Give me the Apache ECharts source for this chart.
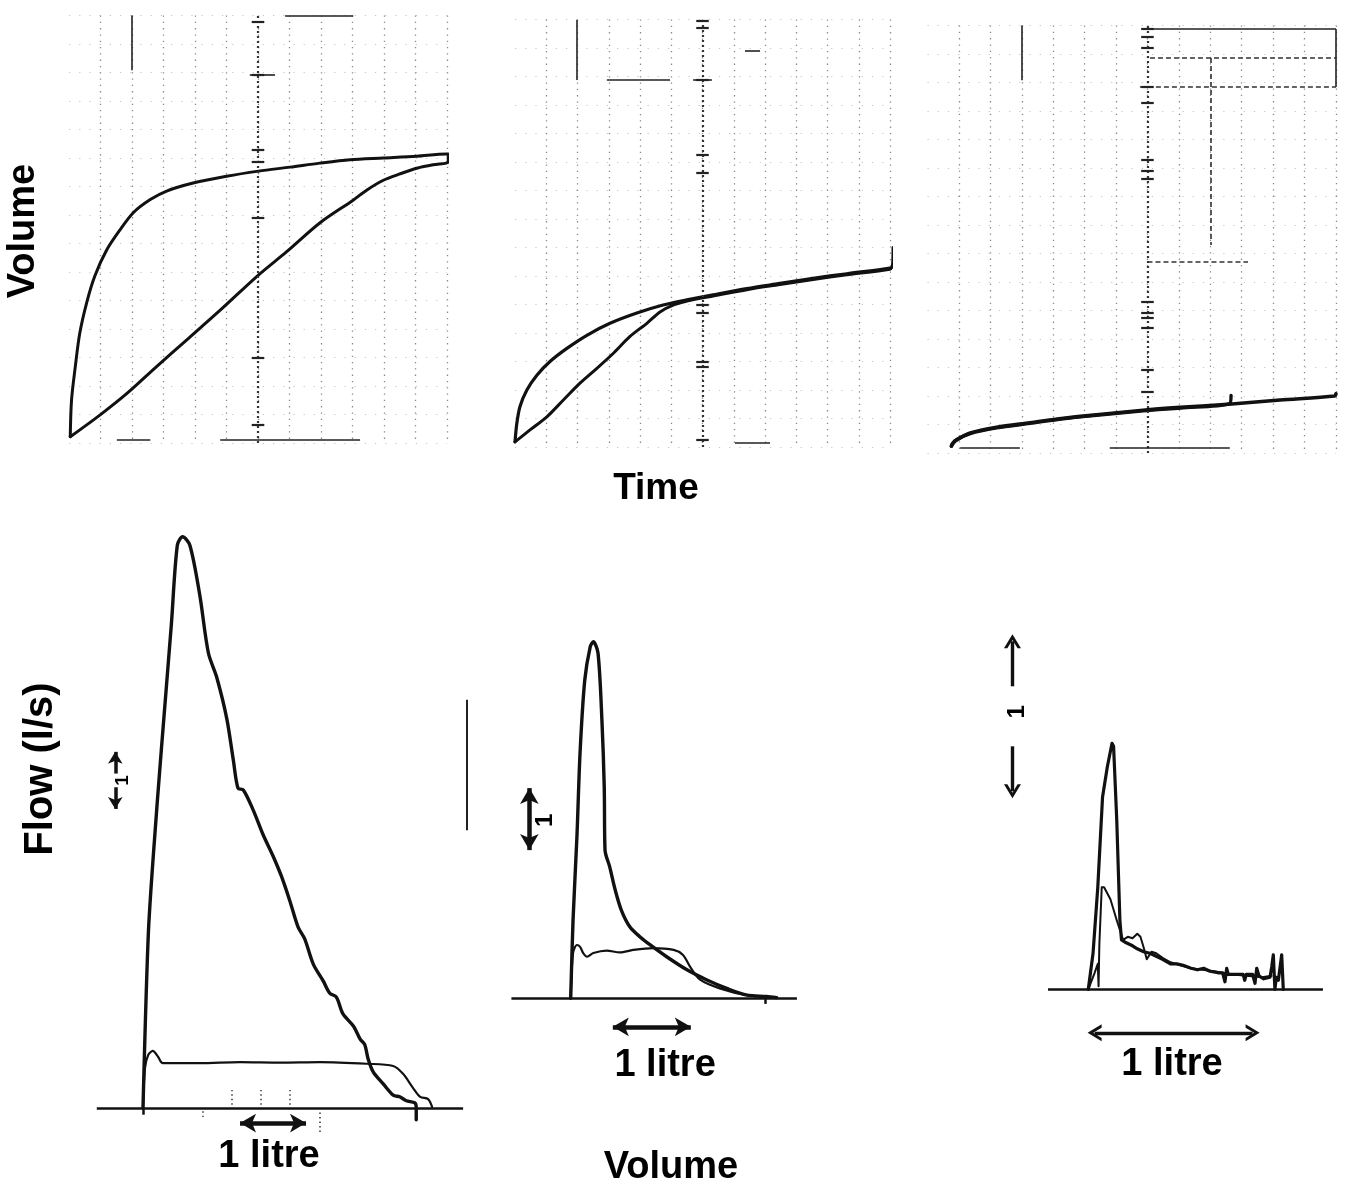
<!DOCTYPE html>
<html>
<head>
<meta charset="utf-8">
<script src="https://cdn.jsdelivr.net/npm/echarts@6/dist/echarts.min.js"></script>
<style>
  html, body { margin: 0; padding: 0; background: #fff; }
  #chart { width: 1348px; height: 1189px; }
</style>
</head>
<body>
<div id="chart"></div>
<script>
// ---------- Spirograms: [time (s), volume (l)] ----------
// normal subject: forced (fast) and slow expiration
const spiroFastA = [[0.02,0.11],[0.04,0.75],[0.10,1.34],[0.17,1.92],[0.28,2.46],[0.41,2.93],[0.60,3.39],[0.81,3.74],[1.02,4.04],[1.29,4.27],[1.55,4.42],[1.97,4.56],[2.50,4.68],[3.01,4.77],[3.51,4.84],[3.98,4.91],[4.46,4.97],[4.99,5.00],[5.52,5.03],[5.99,5.07],[6.02,5.07],[6.02,4.93]];
const spiroSlowA = [[0.02,0.11],[0.49,0.49],[0.92,0.87],[1.39,1.34],[1.87,1.81],[2.40,2.33],[2.98,2.92],[3.46,3.36],[3.98,3.86],[4.51,4.26],[4.73,4.44],[4.99,4.61],[5.25,4.72],[5.52,4.82],[5.78,4.88],[5.99,4.91],[6.02,4.93]];
// moderate obstruction
const spiroFastB = [[0,0.09],[0.03,0.42],[0.08,0.71],[0.19,1.00],[0.35,1.26],[0.56,1.50],[0.83,1.73],[1.15,1.96],[1.52,2.17],[1.95,2.35],[2.37,2.49],[2.75,2.58],[3.17,2.67],[3.71,2.78],[4.24,2.87],[4.77,2.96],[5.31,3.04],[6.00,3.14],[6.04,3.17],[6.05,3.50]];
const spiroSlowB = [[0,0.09],[0.24,0.30],[0.51,0.53],[0.77,0.82],[1.04,1.12],[1.31,1.38],[1.57,1.64],[1.84,1.94],[2.11,2.17],[2.32,2.37],[2.53,2.49],[2.75,2.56],[2.96,2.61],[3.17,2.65],[3.71,2.76],[4.24,2.85],[4.77,2.94],[5.31,3.02],[6.00,3.12],[6.04,3.15]];
// severe obstruction
const spiroFastC = [[-0.12,0.12],[-0.10,0.17],[-0.04,0.23],[0.18,0.35],[0.60,0.45],[1.13,0.53],[1.66,0.61],[2.19,0.67],[2.93,0.75],[3.52,0.80],[4.34,0.86],[5.11,0.93],[5.98,1.00],[6.00,1.04]];
const spiroSlowC = [[-0.12,0.12],[-0.05,0.22],[0.18,0.34],[0.60,0.44],[1.13,0.52],[1.66,0.60],[2.19,0.66],[2.93,0.74],[3.52,0.79],[4.30,0.86],[4.33,1.01]];

// recorder-paper marks: [t0, v0, t1, v1]
const paperSolidA = [[1.0,7.5,1.0,6.54],[0.76,0.05,1.29,0.05],[2.40,0.05,4.62,0.05],[3.43,7.5,4.51,7.5],[2.87,6.46,3.27,6.46]];
const paperSolidB = [[0.99,7.49,0.99,6.44],[1.47,6.44,2.48,6.44],[2.85,6.44,3.15,6.44],[3.68,6.96,3.92,6.96],[3.52,0.07,4.08,0.07]];
const paperSolidC = [[1.0,7.5,1.0,6.54],[2.94,7.44,6.0,7.44],[6.0,7.44,6.0,6.42],[0.02,0.09,0.97,0.09],[2.40,0.09,4.31,0.09]];
const paperDashC = [[3.04,6.93,6.0,6.93],[2.88,6.42,6.0,6.42],[4.0,6.93,4.0,3.65],[3.0,3.35,4.6,3.35]];
// short cross-ticks on the 3 s index line (volume levels)
const indexTicksA = [7.51,7.39,6.46,5.14,4.93,3.95,1.49,0.32];
const indexTicksB = [7.47,7.35,6.44,5.12,4.82,2.49,2.35,1.49,1.40,0.12];
const indexTicksC = [7.44,7.30,7.11,6.42,6.14,5.14,4.96,4.82,2.65,2.46,2.37,2.19,1.46,1.07];
const indexTime = 3.0;

// ---------- Flow-volume curves: [volume (l), flow (l/s)] ----------
const fvForcedA = [[0,0],[0.08,3.09],[0.16,4.57],[0.28,6.43],[0.43,8.64],[0.52,10.05],[0.60,10.20],[0.71,10.05],[0.86,9.16],[0.99,8.13],[1.12,7.68],[1.27,6.95],[1.37,6.20],[1.44,5.71],[1.52,5.68],[1.67,5.32],[1.82,4.88],[1.97,4.50],[2.10,4.13],[2.23,3.68],[2.35,3.23],[2.45,3.02],[2.58,2.57],[2.73,2.27],[2.83,2.05],[2.93,1.98],[3.03,1.68],[3.19,1.46],[3.29,1.23],[3.36,1.13],[3.41,0.88],[3.49,0.64],[3.64,0.43],[3.79,0.23],[3.89,0.20],[3.99,0.13],[4.12,0.09],[4.14,0.0],[4.14,-0.21]];
const fvSlowA = [[0,0],[0.03,0.71],[0.08,0.95],[0.15,1.02],[0.23,0.91],[0.30,0.80],[0.86,0.80],[1.47,0.82],[2.08,0.81],[2.68,0.82],[3.39,0.79],[3.79,0.75],[3.94,0.61],[4.09,0.36],[4.20,0.20],[4.32,0.16],[4.38,0.02]];
const fvForcedB = [[0,0],[0.03,1.26],[0.08,2.61],[0.12,3.96],[0.18,5.13],[0.25,5.67],[0.29,5.75],[0.35,5.57],[0.40,4.49],[0.43,3.41],[0.44,2.39],[0.50,2.12],[0.57,1.75],[0.65,1.42],[0.76,1.15],[0.89,0.99],[1.02,0.86],[1.23,0.67],[1.49,0.46],[1.74,0.30],[2.00,0.16],[2.26,0.05],[2.51,0.03],[2.64,0.01]];
const fvSlowB = [[0,0],[0.03,0.73],[0.08,0.86],[0.12,0.83],[0.16,0.73],[0.21,0.67],[0.29,0.73],[0.46,0.77],[0.63,0.74],[0.80,0.78],[1.06,0.81],[1.32,0.78],[1.44,0.70],[1.53,0.51],[1.66,0.30],[1.91,0.16],[2.26,0.05],[2.64,0.01]];
const fvForcedC = [[0,0],[0.03,0.24],[0.06,0.68],[0.09,1.28],[0.12,1.48],[0.15,1.64],[0.16,1.62],[0.18,1.13],[0.20,0.46],[0.21,0.33],[0.24,0.31],[0.28,0.29],[0.31,0.27],[0.35,0.25],[0.39,0.24],[0.43,0.22],[0.47,0.20],[0.52,0.17],[0.56,0.17],[0.60,0.16],[0.65,0.14],[0.69,0.13],[0.73,0.14],[0.77,0.12],[0.82,0.11],[0.85,0.11],[0.865,0.05],[0.876,0.14],[0.886,0.10],[0.94,0.10],[0.98,0.10],[0.99,0.06],[1.00,0.10],[1.04,0.10],[1.055,0.04],[1.066,0.14],[1.08,0.09],[1.11,0.07],[1.15,0.08],[1.161,0.15],[1.171,0.23],[1.181,0.0],[1.19,0.08],[1.203,0.06],[1.224,0.23],[1.234,0.0]];
const fvSlowC = [[0,0],[0.04,0.11],[0.06,0.17],[0.065,0.02],[0.07,0.30],[0.085,0.68],[0.10,0.68],[0.14,0.60],[0.18,0.46],[0.22,0.33],[0.25,0.35],[0.28,0.34],[0.31,0.37],[0.33,0.35],[0.35,0.28],[0.37,0.20],[0.40,0.25],[0.43,0.24],[0.47,0.21],[0.52,0.18],[0.58,0.16],[0.65,0.14],[0.72,0.13],[0.80,0.12],[0.90,0.10],[1.00,0.09],[1.10,0.08],[1.16,0.09]];

// zero-flow baselines [v0, v1]
const baselineA = [-0.70, 4.85];
const baselineB = [-0.76, 2.90];
const baselineC = [-0.255, 1.485];

// calibration bars: 1 litre (horizontal) and 1 l/s (vertical)
const litreBarA = [1.47, 2.47, -0.27];   // v0, v1, at flow
const litreBarB = [0.54, 1.54, -0.46];
const litreBarC = [0.04, 1.04, -0.29];
const flowBarA = [-0.42, 5.34, 6.36];    // at volume, f0, f1
const flowBarB = [-0.53, 2.39, 3.39];
const flowBarC = [-0.48, 1.32, 2.32];
const scaleText = ['1 litre', '1'];

const FONT = '"Liberation Sans", "Helvetica", Arial, sans-serif';
const INK = '#111';

function seg(list, style) {
  return list.map(s => [{ coord: [s[0], s[1]], lineStyle: style }, { coord: [s[2], s[3]] }]);
}

const solidPaper = { color: '#222', width: 1.6, type: 'solid' };
const dashPaper = { color: '#333', width: 1.6, type: [5, 3] };
const tickPaper = { color: '#222', width: 2.2, type: 'solid' };

function paperMarks(solid, dashed, ticks) {
  const tickSegs = ticks.map(v => [indexTime - 0.1, v, indexTime + 0.1, v]);
  return {
    silent: true, animation: false, symbol: 'none', label: { show: false },
    data: [
      [{ coord: [indexTime, 0], lineStyle: { color: '#333', width: 2.2, type: [2, 3] } }, { coord: [indexTime, 7.5] }]
    ].concat(seg(solid, solidPaper)).concat(seg(dashed || [], dashPaper)).concat(seg(tickSegs, tickPaper))
  };
}

function spiroSeries(idx, data, width, marks) {
  const s = {
    type: 'line', xAxisIndex: idx, yAxisIndex: idx, data: data,
    symbol: 'none', smooth: 0.3, clip: false, animation: false, silent: true,
    lineStyle: { color: INK, width: width, cap: 'round', join: 'round' }
  };
  if (marks) s.markLine = marks;
  return s;
}

function flowSeries(idx, data, width, smooth, marks) {
  const s = {
    type: 'line', xAxisIndex: idx, yAxisIndex: idx, data: data,
    symbol: 'none', smooth: smooth, clip: false, animation: false, silent: true,
    lineStyle: { color: INK, width: width, cap: 'round', join: 'round' }
  };
  if (marks) s.markLine = marks;
  return s;
}

const filledArrow = 'arrow';
const chevron = 'path://M0,10 L5,0 L10,10 L8,10 L5,4 L2,10 Z';

function arrowLine(p0, p1, sym0, sym1, size, width) {
  return [
    { coord: p0, symbol: sym0, symbolSize: size, lineStyle: { color: INK, width: width, type: 'solid' } },
    { coord: p1, symbol: sym1, symbolSize: size }
  ];
}

function flowMarks(base, litre, flow, style, extra) {
  const sym = style === 'chevron' ? chevron : filledArrow;
  const hs = style === 'chevron' ? [17, 14] : [14, 16];
  const lw = style === 'chevron' ? 3.4 : 4.5;
  const data = [
    [{ coord: [base[0], 0], symbol: 'none', lineStyle: { color: INK, width: 2.6, type: 'solid' } }, { coord: [base[1], 0], symbol: 'none' }],
    arrowLine([litre[0], litre[2]], [litre[1], litre[2]], sym, sym, hs, lw)
  ];
  if (style === 'gap' || style === 'chevron') {
    const mid = (flow[1] + flow[2]) / 2;
    const g = (flow[2] - flow[1]) * (style === 'gap' ? 0.12 : 0.2);
    data.push(arrowLine([flow[0], mid + g], [flow[0], flow[2]], 'none', sym, style === 'gap' ? [11, 12] : hs, style === 'gap' ? 3.5 : lw));
    data.push(arrowLine([flow[0], mid - g], [flow[0], flow[1]], 'none', sym, style === 'gap' ? [11, 12] : hs, style === 'gap' ? 3.5 : lw));
  } else {
    data.push(arrowLine([flow[0], flow[1]], [flow[0], flow[2]], sym, sym, hs, lw));
  }
  return { silent: true, animation: false, label: { show: false }, data: data.concat(extra || []) };
}

function textSeries(idx, items) {
  return {
    type: 'scatter', xAxisIndex: idx, yAxisIndex: idx, silent: true, animation: false,
    symbolSize: 1, itemStyle: { color: 'rgba(255,255,255,0)', opacity: 1 }, clip: false,
    data: items.map(it => ({
      value: it.at, name: it.text,
      label: {
        show: true, position: 'inside', formatter: '{b}', color: '#000', opacity: 1,
        textBorderWidth: 0, fontFamily: FONT, fontWeight: 'bold', fontSize: it.size, rotate: it.rotate || 0
      }
    }))
  };
}

// grids: three spirograms on top, three flow-volume curves below
const grids = [
  { left: 69, top: 15.5, width: 378, height: 427.5 },
  { left: 515, top: 19.5, width: 375, height: 427.5 },
  { left: 927.5, top: 25.5, width: 408.5, height: 427.5 },
  { left: 90.2, top: 520, width: 376.2, height: 655.2 },
  { left: 500.5, top: 613.9, width: 304.2, height: 471.2 },
  { left: 993.5, top: 614.3, width: 347.6, height: 480 }
];
const xRanges = [[0, 6], [0, 6], [-0.5, 6], [-0.8, 4.9], [-0.9, 3.0], [-0.6, 1.6]];
const yRanges = [[0, 7.5], [0, 7.5], [0, 7.5], [-1.2, 10.5], [-1.4, 6.2], [-0.7, 2.5]];

const vGrid = { show: true, showMinLine: false, showMaxLine: true, lineStyle: { color: '#8a8a8a', width: 1.3, type: [1.3, 5] } };
const hGrid = { show: true, showMinLine: true, showMaxLine: true, lineStyle: { color: '#c6c6c6', width: 1.2, type: [1.2, 9] } };

const xAxes = xRanges.map((r, i) => ({
  type: 'value', gridIndex: i, min: r[0], max: r[1], interval: 0.5,
  axisLine: { show: false }, axisTick: { show: false }, axisLabel: { show: false },
  splitLine: i < 3 ? vGrid : { show: false }
}));
const yAxes = yRanges.map((r, i) => ({
  type: 'value', gridIndex: i, min: r[0], max: r[1], interval: i < 3 ? 0.5 : 1,
  axisLine: { show: false }, axisTick: { show: false }, axisLabel: { show: false },
  splitLine: i < 3 ? hGrid : { show: false }
}));

const dottedTick = { color: '#444', width: 1.6, type: [1.5, 3] };
const extraA = [
  [{ coord: [4.90, 4.96], symbol: 'none', lineStyle: { color: '#222', width: 2, type: 'solid' } }, { coord: [4.90, 7.29], symbol: 'none' }],
  [{ coord: [0, 0], symbol: 'none', lineStyle: { color: INK, width: 2.5, type: 'solid' } }, { coord: [0, -0.12], symbol: 'none' }],
  [{ coord: [1.35, 0.06], symbol: 'none', lineStyle: dottedTick }, { coord: [1.35, 0.32], symbol: 'none' }],
  [{ coord: [1.79, 0.06], symbol: 'none', lineStyle: dottedTick }, { coord: [1.79, 0.32], symbol: 'none' }],
  [{ coord: [2.23, 0.06], symbol: 'none', lineStyle: dottedTick }, { coord: [2.23, 0.32], symbol: 'none' }],
  [{ coord: [2.68, -0.08], symbol: 'none', lineStyle: dottedTick }, { coord: [2.68, -0.48], symbol: 'none' }],
  [{ coord: [0.91, -0.06], symbol: 'none', lineStyle: dottedTick }, { coord: [0.91, -0.16], symbol: 'none' }]
];
const extraB = [
  [{ coord: [2.49, 0], symbol: 'none', lineStyle: { color: INK, width: 2.5, type: 'solid' } }, { coord: [2.49, -0.09], symbol: 'none' }]
];

const series = [
  spiroSeries(0, spiroFastA, 3, paperMarks(paperSolidA, [], indexTicksA)),
  spiroSeries(0, spiroSlowA, 3),
  spiroSeries(1, spiroFastB, 3.2, paperMarks(paperSolidB, [], indexTicksB)),
  spiroSeries(1, spiroSlowB, 3),
  spiroSeries(2, spiroFastC, 3.6, paperMarks(paperSolidC, paperDashC, indexTicksC)),
  spiroSeries(2, spiroSlowC, 3.4),

  flowSeries(3, fvForcedA, 3.4, 0.3, flowMarks(baselineA, litreBarA, flowBarA, 'gap', extraA)),
  flowSeries(3, fvSlowA, 2.2, 0.3),
  flowSeries(4, fvForcedB, 3.4, 0.3, flowMarks(baselineB, litreBarB, flowBarB, 'solid', extraB)),
  flowSeries(4, fvSlowB, 2.2, 0.3),
  flowSeries(5, fvForcedC, 3.2, false, flowMarks(baselineC, litreBarC, flowBarC, 'chevron')),
  flowSeries(5, fvSlowC, 2.0, false),

  textSeries(3, [
    { text: scaleText[0], at: [1.91, -0.86], size: 38 },
    { text: scaleText[1], at: [-0.30, 5.85], size: 19, rotate: 90 }
  ]),
  textSeries(4, [
    { text: scaleText[0], at: [1.21, -1.09], size: 38 },
    { text: scaleText[1], at: [-0.32, 2.87], size: 24, rotate: 90 }
  ]),
  textSeries(5, [
    { text: scaleText[0], at: [0.53, -0.50], size: 38 },
    { text: scaleText[1], at: [-0.45, 1.85], size: 24, rotate: 90 }
  ])
];

function title(text, x, y, rot, size) {
  return {
    type: 'text', x: x, y: y, rotation: rot, silent: true,
    style: {
      text: text, fill: '#000', font: 'bold ' + size + 'px ' + FONT,
      align: 'center', verticalAlign: 'middle',
      textAlign: 'center', textVerticalAlign: 'middle'
    }
  };
}

const chart = echarts.init(document.getElementById('chart'), null, { renderer: 'canvas' });
chart.setOption({
  backgroundColor: '#ffffff',
  animation: false,
  grid: grids,
  xAxis: xAxes,
  yAxis: yAxes,
  series: series,
  graphic: [
    title('Volume', 24, 231, Math.PI / 2, 38),
    title('Time', 656, 489, 0, 37),
    title('Flow (l/s)', 41, 769, Math.PI / 2, 40),
    title('Volume', 671, 1168, 0, 38)
  ]
});
</script>
</body>
</html>
